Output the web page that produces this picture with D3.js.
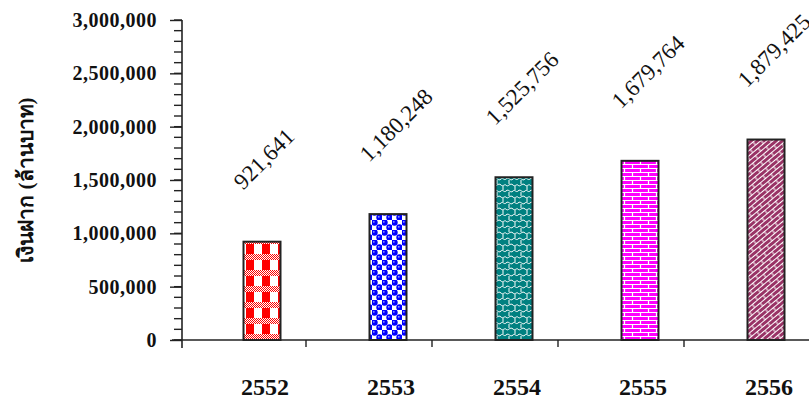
<!DOCTYPE html>
<html>
<head>
<meta charset="utf-8">
<script src="https://cdn.jsdelivr.net/npm/d3@7"></script>
<style>
  body { margin: 0; background: #fff; }
  svg { display: block; }
</style>
</head>
<body>
<div id="chart-area"></div>
<script>
// Chart data
var years = ["2552", "2553", "2554", "2555", "2556"];
var deposits = [921641, 1180248, 1525756, 1679764, 1879425];
var yTicks = [0, 500000, 1000000, 1500000, 2000000, 2500000, 3000000];
var yTitle = "เงินฝาก (ล้านบาท)";

var width = 809;
var height = 400;
var margin = { top: 20, right: -3, bottom: 60, left: 182 };
var innerWidth = width - margin.left - margin.right;
var innerHeight = height - margin.top - margin.bottom;
var serif = "'Liberation Serif', 'Times New Roman', serif";

var svg = d3.select("#chart-area")
    .append("svg")
    .attr("width", width)
    .attr("height", height);

// Fill patterns for each bar
var defs = svg.append("defs");

// red plaid
var p1 = defs.append("pattern").attr("id", "pat0").attr("patternUnits", "userSpaceOnUse")
    .attr("width", 16).attr("height", 16);
p1.append("rect").attr("width", 16).attr("height", 16).attr("fill", "#fff");
p1.append("rect").attr("x", 0).attr("width", 8).attr("height", 10).attr("fill", "#ff0000");
for (var i = 0; i < 16; i++) {
    for (var j = 10; j < 16; j++) {
        if ((i + j) % 2 === 0) p1.append("rect").attr("x", i).attr("y", j).attr("width", 1).attr("height", 1).attr("fill", "#ff0000");
    }
}

// blue spheres
var p2 = defs.append("pattern").attr("id", "pat1").attr("patternUnits", "userSpaceOnUse")
    .attr("width", 10).attr("height", 10);
p2.append("rect").attr("width", 10).attr("height", 10).attr("fill", "#fff");
p2.append("circle").attr("cx", 2.5).attr("cy", 2.5).attr("r", 3.2).attr("fill", "#0000ff");
p2.append("circle").attr("cx", 7.5).attr("cy", 7.5).attr("r", 3.2).attr("fill", "#0000ff");
p2.append("circle").attr("cx", 1.8).attr("cy", 1.8).attr("r", 0.9).attr("fill", "#9999ff");
p2.append("circle").attr("cx", 6.8).attr("cy", 6.8).attr("r", 0.9).attr("fill", "#9999ff");

// teal waves
var p3 = defs.append("pattern").attr("id", "pat2").attr("patternUnits", "userSpaceOnUse")
    .attr("width", 12).attr("height", 12);
p3.append("rect").attr("width", 12).attr("height", 12).attr("fill", "#008080");
p3.append("path")
    .attr("d", "M0,3 C3,0 4,6 7,3 C9,1 10,5 12,3 M0,9 C2,12 4,6 7,9 C9,11 10,8 12,9 M3,4 L3,8 M9,10 L9,14 M9,-2 L9,2")
    .attr("fill", "none").attr("stroke", "#fff").attr("stroke-width", 1);

// magenta brick
var p4 = defs.append("pattern").attr("id", "pat3").attr("patternUnits", "userSpaceOnUse")
    .attr("width", 16).attr("height", 8);
p4.append("rect").attr("width", 16).attr("height", 8).attr("fill", "#ff00ff");
p4.append("path")
    .attr("d", "M0,0.5 H16 M0,4.5 H16 M2.5,0 V4 M10.5,4 V8")
    .attr("fill", "none").attr("stroke", "#fff").attr("stroke-width", 1.2);

// maroon diagonal brick
var p5 = defs.append("pattern").attr("id", "pat4").attr("patternUnits", "userSpaceOnUse")
    .attr("width", 14).attr("height", 8)
    .attr("patternTransform", "rotate(-40)");
p5.append("rect").attr("width", 14).attr("height", 8).attr("fill", "#993366");
p5.append("path")
    .attr("d", "M0,0.5 H14 M0,4.5 H14 M2,0 V4 M9,4 V8")
    .attr("fill", "none").attr("stroke", "#fff").attr("stroke-width", 1);

var g = svg.append("g")
    .attr("transform", `translate(${margin.left}, ${margin.top})`);

var x = d3.scaleBand()
    .domain(years)
    .range([0, 630]);

var y = d3.scaleLinear()
    .domain([0, 3000000])
    .range([innerHeight, 0]);

var barWidth = 37;
var barCenter = d => x(d) + 80;

// y axis with minor ticks
var minor = d3.range(0, 3000001, 100000);
g.selectAll(".minor")
    .data(minor)
    .enter()
    .append("line")
    .attr("x1", -8)
    .attr("x2", 0)
    .attr("y1", d => y(d))
    .attr("y2", d => y(d))
    .attr("stroke", "#222")
    .attr("stroke-width", 1.4);

var yAxis = g.append("g")
    .call(d3.axisLeft(y)
        .tickValues(yTicks)
        .tickSize(12)
        .tickPadding(13)
        .tickFormat(d3.format(",")));
yAxis.select(".domain").attr("d", `M0,${y(3000000)}V${innerHeight + 8}`)
    .attr("stroke", "#222").attr("stroke-width", 1.6);
yAxis.selectAll(".tick line").attr("stroke", "#222").attr("stroke-width", 1.4);
yAxis.selectAll("text")
    .attr("font-family", serif)
    .attr("font-weight", "bold")
    .attr("font-size", "20px")
    .attr("letter-spacing", "0.5px")
    .attr("fill", "#111");

// x axis
g.append("line")
    .attr("x1", -10).attr("x2", 630)
    .attr("y1", innerHeight).attr("y2", innerHeight)
    .attr("stroke", "#222").attr("stroke-width", 1.6);
g.selectAll(".xtick")
    .data(years)
    .enter()
    .append("line")
    .attr("x1", d => x(d) + x.bandwidth() - 2)
    .attr("x2", d => x(d) + x.bandwidth() - 2)
    .attr("y1", innerHeight)
    .attr("y2", innerHeight + 7)
    .attr("stroke", "#222").attr("stroke-width", 1.4);

// bars
g.selectAll(".bar")
    .data(deposits)
    .enter()
    .append("rect")
    .attr("x", (d, i) => barCenter(years[i]) - barWidth / 2)
    .attr("y", d => y(d))
    .attr("width", barWidth)
    .attr("height", d => innerHeight - y(d))
    .attr("fill", (d, i) => `url(#pat${i})`)
    .attr("stroke", "#222")
    .attr("stroke-width", 2);

// value labels
g.selectAll(".val")
    .data(deposits)
    .enter()
    .append("text")
    .attr("transform", (d, i) => `translate(${barCenter(years[i]) - 19}, ${y(d) - 51}) rotate(-45)`)
    .attr("font-family", serif)
    .attr("font-size", "23px")
    .attr("fill", "#111")
    .text(d => d3.format(",")(d));

// category labels
g.selectAll(".cat")
    .data(years)
    .enter()
    .append("text")
    .attr("x", d => barCenter(d) + 3)
    .attr("y", innerHeight + 55)
    .attr("text-anchor", "middle")
    .attr("font-family", serif)
    .attr("font-weight", "bold")
    .attr("font-size", "24px")
    .attr("fill", "#111")
    .text(d => d);

// y axis title
svg.append("text")
    .attr("transform", "translate(33, 180) rotate(-90)")
    .attr("text-anchor", "middle")
    .attr("font-family", serif)
    .attr("font-weight", "bold")
    .attr("font-size", "21px")
    .attr("fill", "#111")
    .text(yTitle);
</script>
</body>
</html>
